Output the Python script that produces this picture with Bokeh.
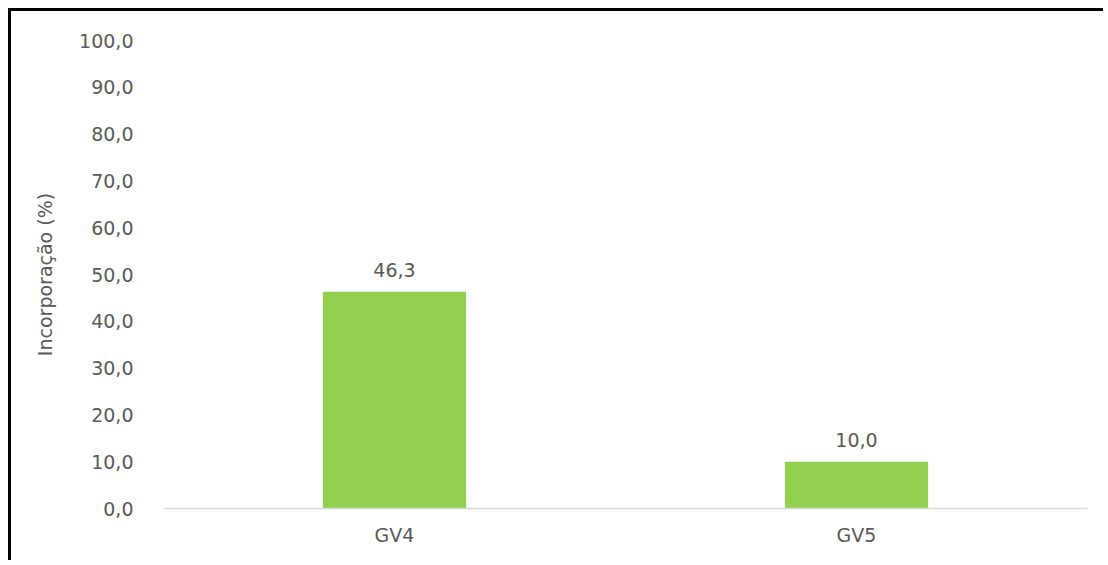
from bokeh.plotting import figure
from bokeh.models import ColumnDataSource, FactorRange, Range1d, SingleIntervalTicker, CustomJSTickFormatter
from bokeh.core.properties import value
from bokeh.embed import file_html
from bokeh.resources import INLINE

categories = ["GV4", "GV5"]
values = [46.3, 10.0]
labels = ["46,3", "10,0"]

FONT = "DejaVu Sans"
TXT = "#595959"
FS = "19px"

src = ColumnDataSource(dict(cat=categories, val=values, lab=labels))

W, H = 1095, 552
p = figure(x_range=FactorRange(*categories, range_padding=0.0), y_range=Range1d(0, 100),
           width=W, height=H, output_backend="svg", toolbar_location=None,
           min_border_left=152, min_border_right=19, min_border_top=29, min_border_bottom=55)
p.styles = {"border-top": "3px solid black", "border-left": "3px solid black",
            "margin-top": "8px", "margin-left": "8px"}
p.outline_line_color = None
p.xgrid.grid_line_color = None
p.ygrid.grid_line_color = None

p.vbar(x="cat", top="val", width=0.31, source=src, color="#92D050", line_color=None)
p.text(x="cat", y="val", text="lab", source=src, text_align="center", text_baseline="bottom",
       y_offset=-15, text_color=TXT, text_font=value(FONT), text_font_size=FS)

p.yaxis.ticker = SingleIntervalTicker(interval=10)
p.yaxis.formatter = CustomJSTickFormatter(code="return tick.toFixed(1).replace('.', ',');")
p.yaxis.axis_line_color = None
p.yaxis.major_tick_line_color = None
p.yaxis.minor_tick_line_color = None
p.yaxis.major_label_text_font = FONT
p.yaxis.major_label_text_font_size = FS
p.yaxis.major_label_text_color = TXT
p.yaxis.major_label_standoff = 24
p.yaxis.axis_label = "Incorporação (%)"
p.yaxis.axis_label_text_font = FONT
p.yaxis.axis_label_text_font_size = FS
p.yaxis.axis_label_text_font_style = "normal"
p.yaxis.axis_label_text_color = TXT
p.yaxis.axis_label_standoff = 20

p.xaxis.axis_line_color = "#D9D9D9"
p.xaxis.axis_line_width = 1.5
p.xaxis.major_tick_line_color = None
p.xaxis.minor_tick_line_color = None
p.xaxis.major_label_text_font = FONT
p.xaxis.major_label_text_font_size = FS
p.xaxis.major_label_text_color = TXT
p.xaxis.major_label_standoff = 9

open("out.html", "w").write(file_html(p, INLINE))
